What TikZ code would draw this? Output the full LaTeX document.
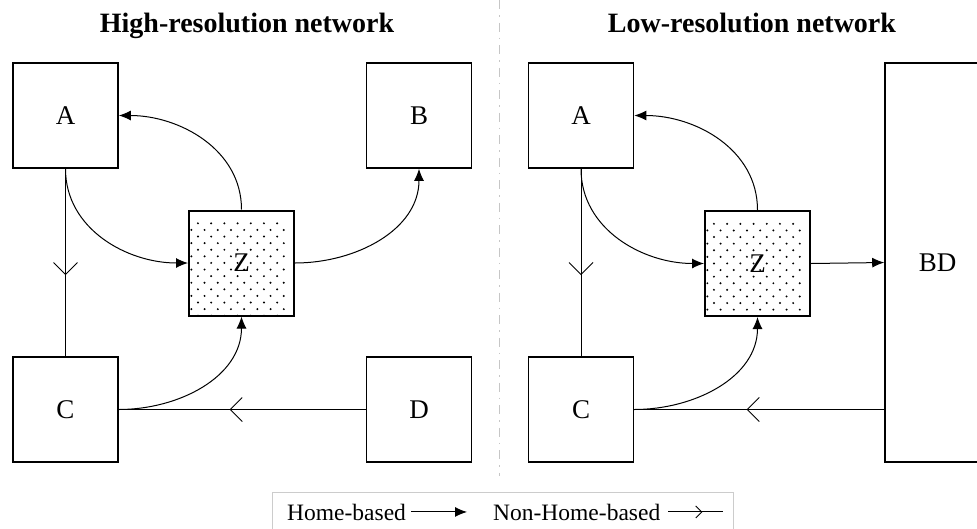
\documentclass[tikz,border=0pt]{standalone}
\usepackage{fontspec}
\setmainfont{Liberation Serif}
\usetikzlibrary{arrows.meta, decorations.markings}

\tikzset{
  box/.style={draw, line width=1.6pt, minimum size=105pt, inner sep=0pt, font=\fontsize{27}{32}\selectfont},
  zone/.style={box, line width=2pt, path picture={
      \foreach \i in {0,...,7}
        \foreach \j in {0,...,7} {
          \fill (-48.5+\i*13.2, -48.5+\j*13.2) circle (1.1pt);
          \fill (-41.9+\i*13.2, -41.9+\j*13.2) circle (1.1pt);
        }}},
  home/.style={-{Latex[length=12pt,width=10pt]}, line width=1pt},
  nonhome/.style={line width=1pt, postaction={decorate},
    decoration={markings, mark=at position 0.5 with {\draw[line width=1pt] (0,#1) -- (#1,0) -- (0,-#1);}}},
  nonhome/.default=12pt,
  title/.style={font=\bfseries\fontsize{28}{32}\selectfont, anchor=base},
  legend/.style={font=\fontsize{23.5}{28}\selectfont, anchor=base west, inner sep=0pt},
}

\begin{document}
\begin{tikzpicture}[x=1pt, y=-1pt]
\useasboundingbox (0,0) rectangle (977,528);
\clip (0,0) rectangle (977,528);

% titles and separator
\node[title] (ttl1) at (247,32) {High-resolution network};
\node[title] (ttl2) at (752,32) {Low-resolution network};
\draw[gray!45, line width=1pt, dash pattern=on 9pt off 6pt on 1.5pt off 6pt] (499,0) -- (499,476);

% high-resolution network
\node[box] (A1) at (65.5,115.5) {A};
\node[box] (B1) at (419,115.5) {B};
\node[zone] (Z1) at (241.5,263) {Z};
\node[box] (C1) at (65.5,409.5) {C};
\node[box] (D1) at (419,409.5) {D};

\draw[home] (A1.south) to[out=-90, in=180] (Z1.west);
\draw[home] (Z1.north) to[out=90, in=0] (A1.east);
\draw[home] (Z1.east) to[out=0, in=-90] (B1.south);
\draw[home] (C1.east) to[out=0, in=-90] (Z1.south);
\draw[nonhome] (A1.south) -- (C1.north);
\draw[nonhome] (D1.west) -- (C1.east);

% low-resolution network
\node[box] (A2) at (581,115.5) {A};
\node[zone] (Z2) at (757.5,263.5) {Z};
\node[box] (C2) at (581,409.5) {C};
\node[box, minimum height=399pt] (BD) at (937.5,262.5) {BD};

\draw[home] (A2.south) to[out=-90, in=180] (Z2.west);
\draw[home] (Z2.north) to[out=90, in=0] (A2.east);
\draw[home] (C2.east) to[out=0, in=-90] (Z2.south);
\draw[home] (Z2.east) -- (BD.west);
\draw[nonhome] (A2.south) -- (C2.north);
\draw[nonhome] (C2.east -| BD.west) -- (C2.east);

% legend
\draw[gray!40, line width=1pt] (272,492) rectangle (733,545);
\node[legend] (hbtxt) at (287,520) {Home-based};
\node[legend] (nhtxt) at (493,520) {Non-Home-based};
\coordinate (hbtip) at (467,0);
\coordinate (nhtip) at (723,0);
\draw[home] ([xshift=5pt]hbtxt.east) -- (hbtxt.east -| hbtip);
\draw[nonhome=6pt] ([xshift=8pt]nhtxt.east) -- (nhtxt.east -| nhtip);
\end{tikzpicture}
\end{document}
